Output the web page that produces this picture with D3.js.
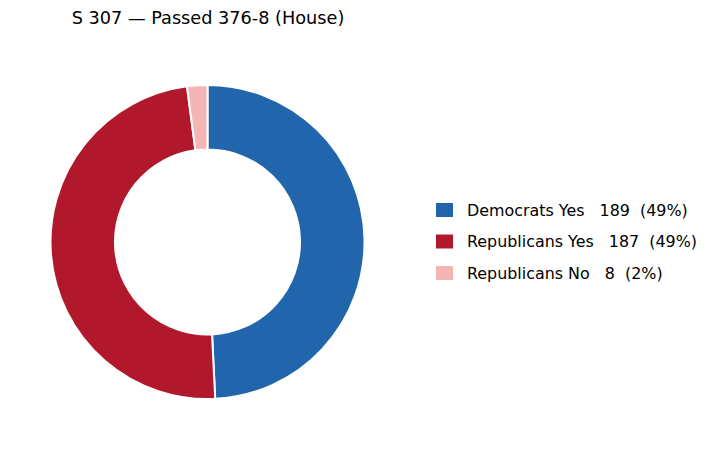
<!DOCTYPE html>
<html>
<head>
<meta charset="utf-8">
<script src="https://cdn.jsdelivr.net/npm/d3@7"></script>
<style>
  body { margin: 0; background: #fff; }
  svg text { font-family: "DejaVu Sans", sans-serif; white-space: pre; }
</style>
</head>
<body>
<svg id="chart" width="712" height="450"></svg>
<script>
var title = "S 307 \u2014 Passed 376-8 (House)";
var categories = ["Democrats Yes", "Republicans Yes", "Republicans No"];
var votes = [189, 187, 8];
var colors = ["#2166ac", "#b2182b", "#f4b6b4"];

var width = 712, height = 450;
var cx = 207.5, cy = 242;
var outer = 157, inner = 92.5;

var svg = d3.select("#chart");

svg.append("text")
    .attr("x", 208)
    .attr("y", 24)
    .attr("text-anchor", "middle")
    .style("font-size", "17.7px")
    .attr("fill", "#000")
    .text(title);

var total = d3.sum(votes);
var data = categories.map(function (c, i) {
    return { name: c, value: votes[i], color: colors[i] };
});

var pie = d3.pie().sort(null).value(function (d) { return d.value; });
var arc = d3.arc().innerRadius(inner).outerRadius(outer);

var g = svg.append("g").attr("transform", "translate(" + cx + "," + cy + ")");
g.selectAll("path")
    .data(pie(data))
    .enter().append("path")
    .attr("d", arc)
    .attr("fill", function (d) { return d.data.color; })
    .attr("stroke", "#fff")
    .attr("stroke-width", 2)
    .attr("stroke-linejoin", "round");

// legend
var ly = d3.scalePoint().domain(categories).range([210, 273]);
var leg = svg.append("g");
var row = leg.selectAll("g")
    .data(data)
    .enter().append("g")
    .attr("transform", function (d) { return "translate(436," + ly(d.name) + ")"; });
row.append("rect")
    .attr("x", 0).attr("y", -7)
    .attr("width", 17).attr("height", 14)
    .attr("fill", function (d) { return d.color; });
row.append("text")
    .attr("x", 31)
    .attr("y", 0)
    .attr("dy", "0.36em")
    .style("font-size", "15.9px")
    .attr("fill", "#000")
    .text(function (d) {
        var pct = Math.round(d.value / total * 100);
        return d.name + "   " + d.value + "  (" + pct + "%)";
    });
</script>
</body>
</html>
